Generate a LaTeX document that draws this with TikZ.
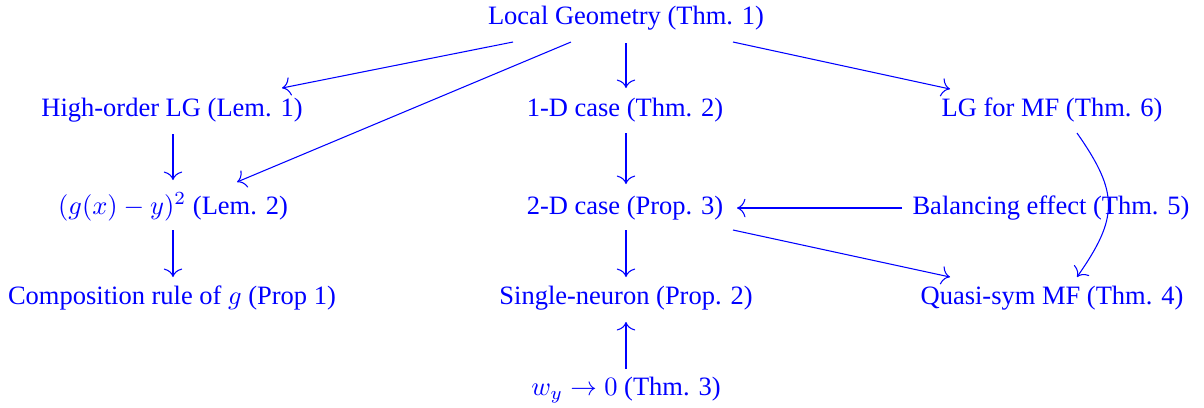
\documentclass[tikz,border=0pt]{standalone}
\usepackage{fontspec}
\setmainfont{Liberation Serif}
\usetikzlibrary{calc,arrows.meta}
\begin{document}
\begin{tikzpicture}[x=0.3774pt,y=-0.3774pt,
  lbl/.style={text=blue,inner sep=0pt,font=\fontsize{10pt}{12pt}\selectfont},
  arr/.style={-{Computer Modern Rightarrow[length=3.2pt,width=7pt]},draw=blue,line width=0.4pt}]
\useasboundingbox (0,0) rectangle (1204,407);
\node[lbl] (lg) at (626,18) {Local Geometry (Thm. 1)};
\node[lbl] (ho) at (172,110) {High-order LG (Lem. 1)};
\node[lbl] (d1) at (625,110) {1-D case (Thm. 2)};
\node[lbl] (mf) at (1052,110) {LG for MF (Thm. 6)};
\node[lbl] (lem) at (173,207) {$(g(x)-y)^2$ (Lem. 2)};
\node[lbl] (d2) at (625,208) {2-D case (Prop. 3)};
\node[lbl] (bal) at (1051,208) {Balancing effect (Thm. 5)};
\node[lbl] (comp) at (172,298) {Composition rule of $g$ (Prop 1)};
\node[lbl] (sn) at (626,298) {Single-neuron (Prop. 2)};
\node[lbl] (qs) at (1052,298) {Quasi-sym MF (Thm. 4)};
\node[lbl] (wy) at (626,390) {$w_y\to0$ (Thm. 3)};

\draw[arr] ($(lg)+(-113,24)$) -- ($(ho)+(110,-22)$);
\draw[arr] ($(lg)+(-55,24)$) -- ($(lem)+(64,-25)$);
\draw[arr] ($(lg)+(0,25)$) -- ($(d1)+(1,-22)$);
\draw[arr] ($(lg)+(107,24)$) -- ($(mf)+(-102,-21)$);
\draw[arr] ($(ho)+(1,24)$) -- ($(lem)+(0,-27)$);
\draw[arr] ($(d1)+(1,23)$) -- ($(d2)+(1,-24)$);
\draw[arr] ($(lem)+(0,23)$) -- ($(comp)+(1,-21)$);
\draw[arr] ($(d2)+(1,22)$) -- ($(sn)+(0,-21)$);
\draw[arr] ($(bal)+(-149,0)$) -- ($(d2)+(112,0)$);
\draw[arr] ($(d2)+(108,22)$) -- ($(qs)+(-102,-21)$);
\draw[arr] ($(mf)+(25,23)$) to[out=-55,in=55,looseness=1.3] ($(qs)+(25,-21)$);
\draw[arr] ($(wy)+(0,-21)$) -- ($(sn)+(0,24)$);
\end{tikzpicture}
\end{document}
